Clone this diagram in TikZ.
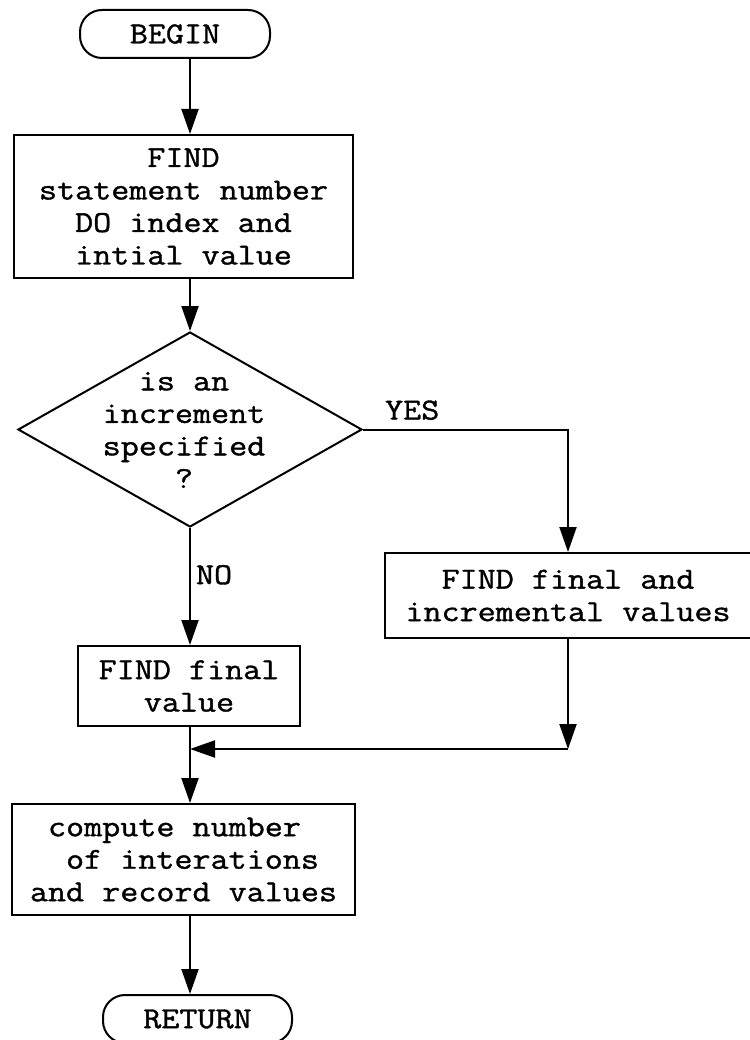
\documentclass[tikz,border=0pt]{standalone}
\usepackage{fontspec}
\newfontfamily\typewriter[FakeStretch=1.15,FakeBold=1.2]{Latin Modern Mono}
\usetikzlibrary{arrows.meta,shapes.geometric}
\begin{document}
\begin{tikzpicture}[x=1pt,y=-1pt,
  every node/.style={font=\typewriter\fontsize{30.5}{32.5}\selectfont},
  box/.style={draw, line width=2pt, inner sep=0pt, align=center},
  term/.style={draw, line width=2pt, rounded corners=22pt, inner sep=0pt},
  decision/.style={draw, line width=2pt, diamond, inner sep=0pt},
  flow/.style={line width=2pt},
  arr/.style={flow, -{Triangle[length=25pt,width=17pt]}},
  lbl/.style={inner sep=0pt}]
\useasboundingbox (0,0) rectangle (749,1040);

% blocks
\node[term, minimum width=190pt, minimum height=48pt] (begin) at (175,34) {BEGIN};
\node[box, minimum width=339pt, minimum height=143pt] (find) at (183.5,206.5)
  {FIND\\statement number\\DO index and\\intial value};
\node[decision, minimum width=344pt, minimum height=195pt] (dec) at (190,429.5) {};
\node[lbl, align=center] (ask) at (184,430) {is an\\increment\\specified\\?};
\node[box, minimum width=366pt, minimum height=85pt] (both) at (568,595.5)
  {FIND final and\\incremental values};
\node[box, minimum width=222pt, minimum height=80pt] (final) at (189,686)
  {FIND final\\value};
\node[box, minimum width=343pt, minimum height=111pt, align=left] (comp) at (183.5,859.5)
  {\hphantom{x}compute number\\\hphantom{xx}of interations\\and record values};
\node[term, minimum width=189pt, minimum height=48pt] (ret) at (197.5,1019) {RETURN};

% where the two branches meet again
\coordinate (join) at (190,749);
\coordinate (bend) at (both.south |- join);

% connectors
\draw[arr] (dec.north |- begin.south) -- (dec.north |- find.north);
\draw[arr] (dec.north |- find.south) -- (dec.north);
\draw[arr] (dec.east) -| node[lbl, pos=0.12, anchor=base, yshift=10pt] {YES} (both.north);
\draw[arr] (dec.south) -- node[lbl, pos=0.4, anchor=west, xshift=5pt] {NO} (dec.south |- final.north);
\draw[arr] (both.south) -- (bend);
\draw[arr] (bend) -- (join);
\draw[arr] (dec.south |- final.south) -- (dec.south |- comp.north);
\draw[arr] (dec.south |- comp.south) -- (dec.south |- ret.north);
\end{tikzpicture}
\end{document}
